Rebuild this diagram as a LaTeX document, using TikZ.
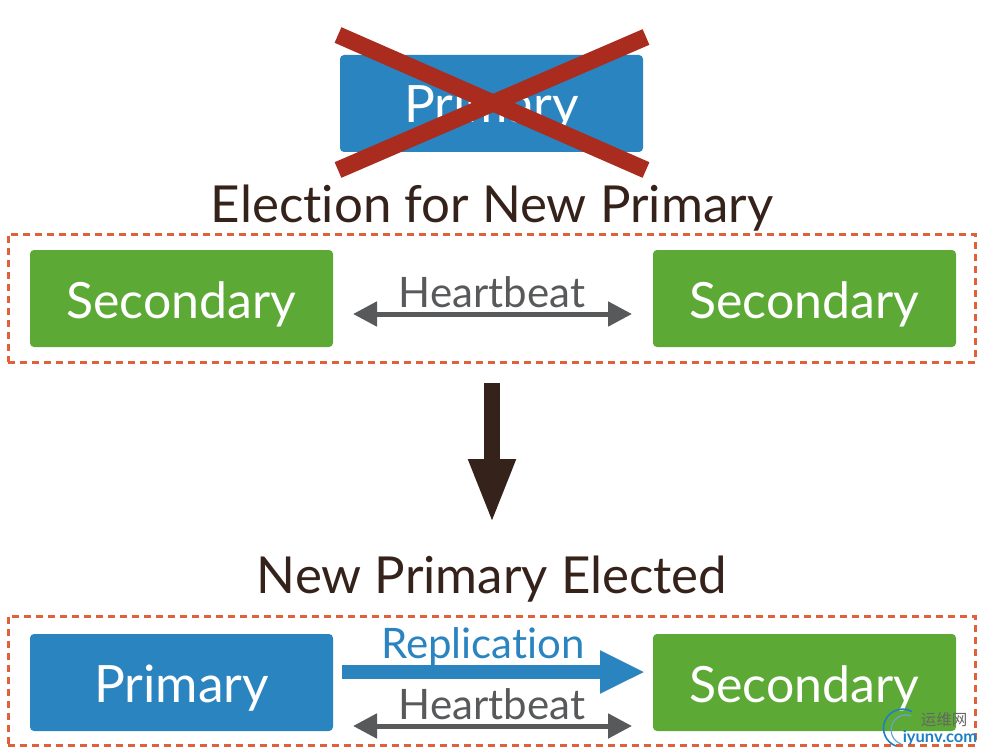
\documentclass[tikz,border=0pt]{standalone}
\usepackage{fontspec}
\setmainfont{Lato}[Ligatures=NoCommon]
\newfontfamily\cjk{Noto Sans CJK SC}
\usetikzlibrary{arrows.meta}
\definecolor{mdbblue}{HTML}{2A84C0}
\definecolor{mdbgreen}{HTML}{5CA935}
\definecolor{crossred}{HTML}{AA2C1E}
\definecolor{darkbrown}{HTML}{35221A}
\definecolor{dashorange}{HTML}{E0603A}
\definecolor{beatgrey}{HTML}{58595B}
\definecolor{markblue}{HTML}{1F7FC4}
\tikzset{
  member/.style={minimum width=303pt, minimum height=97pt, inner sep=0pt, rounded corners=4pt, text=white, text height=44pt, text depth=5pt},
  primarybox/.style={member, fill=mdbblue, font=\fontsize{51.5}{51.5}\selectfont},
  secondarybox/.style={member, fill=mdbgreen, font=\fontsize{50}{50}\selectfont},
  groupbox/.style={draw=dashorange, line width=3pt, dash pattern=on 7pt off 5pt, minimum width=967pt, inner sep=0pt},
  headline/.style={text=darkbrown, font=\fontsize{51}{51}\selectfont},
  beatlabel/.style={text=beatgrey, font=\fontsize{42}{42}\selectfont},
  beatarrow/.style={draw=beatgrey, line width=5pt, {Triangle[length=24pt,width=24pt]}-{Triangle[length=24pt,width=24pt]}},
}
\begin{document}
\begin{tikzpicture}[x=1pt,y=-1pt]
\useasboundingbox (0,0) rectangle (984,754);

% failed primary
\node[primarybox] (oldprimary) at (491.5,103.5) {Primary};
\coordinate (crossA) at (338,35);
\coordinate (crossB) at (646,170);
\coordinate (crossC) at (646,37);
\coordinate (crossD) at (338,170);
\draw[crossred, line width=17pt] (crossA) -- (crossB);
\draw[crossred, line width=17pt] (crossC) -- (crossD);
\node[headline] (electiontitle) at (492,208) {Election for New Primary};

% election
\node[groupbox, minimum height=128pt] (electiongroup) at (491.5,298) {};
\node[secondarybox] (secleft) at (181.5,298.5) {Secondary};
\node[secondarybox] (secright) at (804.5,298.5) {Secondary};
\coordinate (beatA) at (353,314);
\coordinate (beatB) at (632,314);
\draw[beatarrow] (beatA) -- (beatB);
\node[beatlabel] (beattop) at (492,292) {Heartbeat};

% big arrow
\coordinate (downA) at (492,383);
\coordinate (downB) at (492,524);
\draw[darkbrown, line width=16pt, -{Triangle[length=65pt,width=43pt]}] (downA) -- (downB);

% new primary
\node[headline] (electedtitle) at (492,579) {New Primary Elected};
\node[groupbox, minimum height=129pt] (electedgroup) at (491.5,680.5) {};
\node[primarybox] (newprimary) at (181.5,682.5) {Primary};
\node[secondarybox] (secbottom) at (804.5,682.5) {Secondary};
\coordinate (replA) at (342,672);
\coordinate (replB) at (645,672);
\draw[mdbblue, line width=14pt, -{Triangle[length=45pt,width=40pt]}] (replA) -- (replB);
\node[text=mdbblue, font=\fontsize{42}{42}\selectfont] (repllabel) at (483,647) {Replication};
\coordinate (beatC) at (353,726);
\coordinate (beatD) at (632,726);
\draw[beatarrow] (beatC) -- (beatD);
\node[beatlabel] (beatbottom) at (492,704) {Heartbeat};

% watermark
\draw[markblue, line width=1.6pt] (896,746) arc (250:60:19pt);
\draw[markblue!70, line width=1.2pt] (901,744) arc (250:70:15pt);
\node[text=gray!80!black, font=\cjk\fontsize{15.5}{15.5}\selectfont] (marktext) at (944,720) {运维网};
\node[text=markblue, font=\fontsize{16.5}{16.5}\selectfont\bfseries] (markurl) at (940,738) {iyunv.com};
\end{tikzpicture}
\end{document}
